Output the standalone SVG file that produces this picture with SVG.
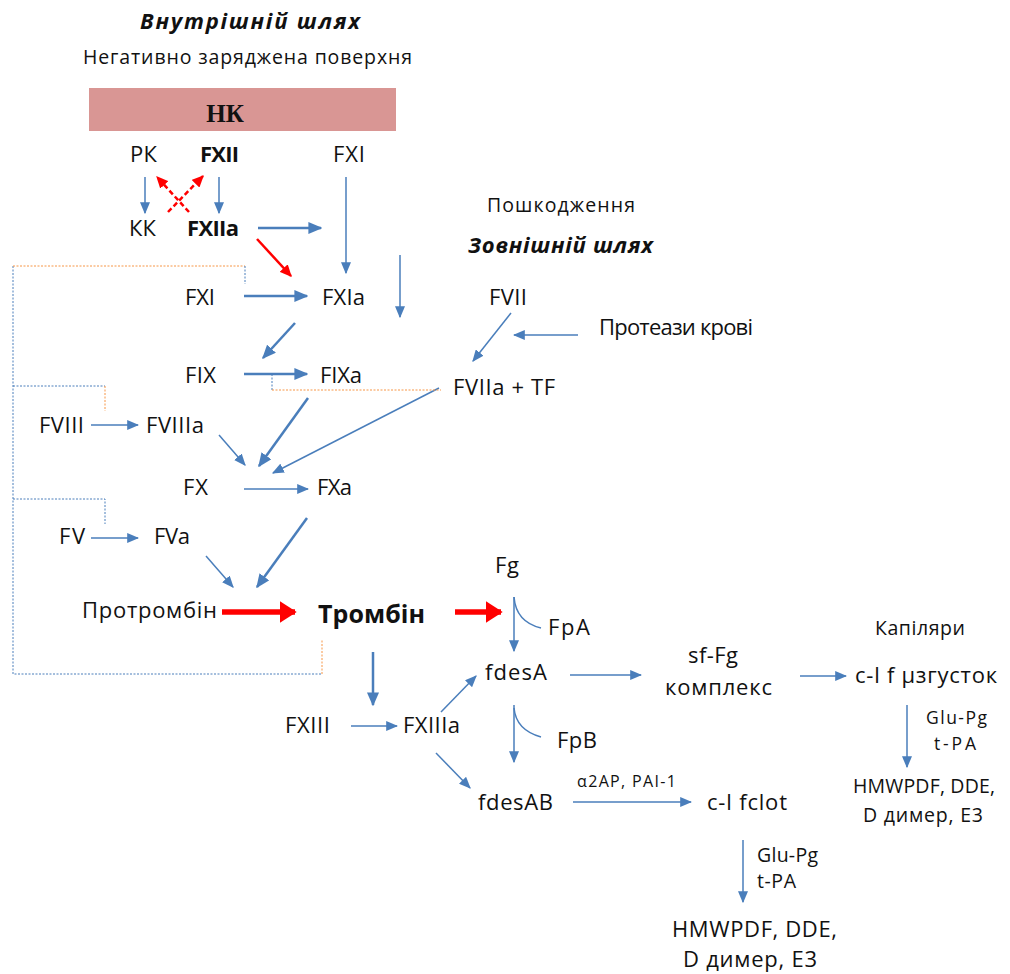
<svg xmlns="http://www.w3.org/2000/svg" width="1010" height="974" viewBox="0 0 1010 974">
<style>
text{font-family:"Open Sans","Liberation Sans",sans-serif;fill:#111;font-size:22px}
.b{font-weight:bold}
.bi{font-weight:bold;font-style:italic;font-size:22px}
.m{font-size:19.5px}
.sm{font-size:17.5px}
.xs{font-size:16px}
.a{stroke:#4a7ebb;stroke-width:1.5;fill:none}
.ak{stroke:#4a7ebb;stroke-width:2.5;fill:none}
.r{stroke:#ff0000;stroke-width:2.5;fill:none}
.rk{stroke:#ff0000;stroke-width:5.5;fill:none}
.rd{stroke:#ff0000;stroke-width:2.5;fill:none;stroke-dasharray:5 3}
.db{stroke:#4a7ebb;stroke-width:1;fill:none;stroke-dasharray:2 1.5}
.do{stroke:#f79646;stroke-width:1;fill:none;stroke-dasharray:2 1.5}
</style>
<defs>
<marker id="ma" viewBox="0 0 10 10" refX="9" refY="5" markerWidth="12" markerHeight="10" markerUnits="userSpaceOnUse" orient="auto" preserveAspectRatio="none"><path d="M0,0 L10,5 L0,10 z" fill="#4a7ebb"/></marker>
<marker id="mab" viewBox="0 0 10 10" refX="9" refY="5" markerWidth="14" markerHeight="12" markerUnits="userSpaceOnUse" orient="auto" preserveAspectRatio="none"><path d="M0,0 L10,5 L0,10 z" fill="#4a7ebb"/></marker>
<marker id="mr" viewBox="0 0 10 10" refX="9" refY="5" markerWidth="12" markerHeight="11" markerUnits="userSpaceOnUse" orient="auto" preserveAspectRatio="none"><path d="M0,0 L10,5 L0,10 z" fill="#ff0000"/></marker>
<marker id="mrk" viewBox="0 0 10 10" refX="9" refY="5" markerWidth="17" markerHeight="22" markerUnits="userSpaceOnUse" orient="auto" preserveAspectRatio="none"><path d="M0,0 L10,5 L0,10 z" fill="#ff0000"/></marker>
</defs>

<g id="headers">
<text class="bi" x="140" y="29" textLength="220" lengthAdjust="spacing">Внутрішній шлях</text>
<text class="m" x="83" y="64" textLength="329" lengthAdjust="spacing">Негативно заряджена поверхня</text>
<text class="m" x="487" y="212" textLength="148" lengthAdjust="spacing">Пошкодження</text>
<text class="bi" x="468" y="253" textLength="185" lengthAdjust="spacing">Зовнішній шлях</text>
<text class="m" x="875" y="635" textLength="90" lengthAdjust="spacing">Капіляри</text>
</g>

<g id="nk"><rect x="89" y="88" width="307" height="43" fill="#d99694"/><text x="225" y="122" text-anchor="middle" style="font-family:'Liberation Serif',serif;font-weight:bold;font-size:25px">НК</text></g>
<g id="pk"><text x="130" y="162" textLength="27" lengthAdjust="spacing">РК</text></g>
<g id="fxii"><text class="b" x="200" y="162" textLength="39" lengthAdjust="spacing">FXII</text></g>
<g id="fxi-top"><text x="333" y="162" textLength="32" lengthAdjust="spacing">FXI</text></g>
<g id="kk"><text x="129" y="236" textLength="27" lengthAdjust="spacing">КК</text></g>
<g id="fxiia"><text class="b" x="187" y="236" textLength="52" lengthAdjust="spacing">FXIIa</text></g>
<g id="fxi"><text x="185" y="305" textLength="30" lengthAdjust="spacing">FXI</text></g>
<g id="fxia"><text x="322" y="305" textLength="43" lengthAdjust="spacing">FXIa</text></g>
<g id="fvii"><text x="489" y="305" textLength="38" lengthAdjust="spacing">FVII</text></g>
<g id="proteases"><text x="599" y="335" textLength="154" lengthAdjust="spacing">Протеази крові</text></g>
<g id="fix"><text x="185" y="383" textLength="31" lengthAdjust="spacing">FIX</text></g>
<g id="fixa"><text x="320" y="383" textLength="42" lengthAdjust="spacing">FIXa</text></g>
<g id="fviia-tf"><text x="453" y="395" textLength="102" lengthAdjust="spacing">FVIIa + TF</text></g>
<g id="fviii"><text x="39" y="433" textLength="45" lengthAdjust="spacing">FVIII</text></g>
<g id="fviiia"><text x="146" y="433" textLength="58" lengthAdjust="spacing">FVIIIa</text></g>
<g id="fx"><text x="183" y="495" textLength="25" lengthAdjust="spacing">FX</text></g>
<g id="fxa"><text x="317" y="495" textLength="35" lengthAdjust="spacing">FXa</text></g>
<g id="fv"><text x="59" y="544" textLength="26" lengthAdjust="spacing">FV</text></g>
<g id="fva"><text x="154" y="544" textLength="36" lengthAdjust="spacing">FVa</text></g>
<g id="prothrombin"><text x="82" y="618" textLength="135" lengthAdjust="spacing">Протромбін</text></g>
<g id="thrombin"><text class="b" x="318" y="623" style="font-size:25px" textLength="107" lengthAdjust="spacing">Тромбін</text></g>
<g id="fg"><text x="495" y="573" textLength="24" lengthAdjust="spacing">Fg</text></g>
<g id="fpa"><text x="548" y="635" textLength="42" lengthAdjust="spacing">FpA</text></g>
<g id="fdesa"><text x="485" y="680" textLength="62" lengthAdjust="spacing">fdesA</text></g>
<g id="sffg"><text x="688" y="663" textLength="50" lengthAdjust="spacing">sf-Fg</text><text x="665" y="695" textLength="107" lengthAdjust="spacing">комплекс</text></g>
<g id="microclot"><text x="855" y="683" textLength="142" lengthAdjust="spacing">c-l f µзгусток</text></g>
<g id="fxiii"><text x="285" y="733" textLength="45" lengthAdjust="spacing">FXIII</text></g>
<g id="fxiiia"><text x="403" y="733" textLength="57" lengthAdjust="spacing">FXIIIa</text></g>
<g id="fpb"><text x="557" y="748" textLength="40" lengthAdjust="spacing">FpB</text></g>
<g id="fdesab"><text x="478" y="810" textLength="75" lengthAdjust="spacing">fdesAB</text></g>
<g id="inhib"><text class="xs" x="577" y="787" textLength="99" lengthAdjust="spacing">α2AP, PAI-1</text></g>
<g id="clot"><text x="707" y="810" textLength="80" lengthAdjust="spacing">c-l fclot</text></g>
<g id="lys1"><text class="sm" x="926" y="724" textLength="61" lengthAdjust="spacing">Glu-Pg</text><text class="sm" x="934" y="750" textLength="42" lengthAdjust="spacing">t-PA</text></g>
<g id="fdp1"><text class="m" x="853" y="793" textLength="142" lengthAdjust="spacing">HMWPDF, DDE,</text><text class="m" x="863" y="822" textLength="120" lengthAdjust="spacing">D димер, E3</text></g>
<g id="lys2"><text class="m" x="757" y="862" textLength="61" lengthAdjust="spacing">Glu-Pg</text><text class="m" x="757" y="888" textLength="39" lengthAdjust="spacing">t-PA</text></g>
<g id="fdp2"><text x="672" y="937" textLength="165" lengthAdjust="spacing">HMWPDF, DDE,</text><text x="683" y="967" textLength="134" lengthAdjust="spacing">D димер, E3</text></g>

<g id="connectors">
<line class="a" x1="145" y1="177" x2="145" y2="213" marker-end="url(#ma)"/>
<line class="a" x1="219" y1="177" x2="219" y2="213" marker-end="url(#ma)"/>
<line class="rd" x1="189" y1="212" x2="157" y2="177" marker-end="url(#mr)"/>
<line class="rd" x1="168" y1="212" x2="203" y2="176" marker-end="url(#mr)"/>
<line class="ak" x1="258" y1="228" x2="321" y2="228" marker-end="url(#mab)"/>
<line class="r" x1="257" y1="239" x2="291" y2="276" marker-end="url(#mr)"/>
<line class="a" x1="346" y1="177" x2="346" y2="273" marker-end="url(#ma)"/>
<line class="a" x1="400" y1="255" x2="400" y2="317" marker-end="url(#ma)"/>
<line class="ak" x1="244" y1="296" x2="307" y2="296" marker-end="url(#mab)"/>
<line class="ak" x1="295" y1="323" x2="263" y2="358" marker-end="url(#mab)"/>
<line class="ak" x1="244" y1="374" x2="307" y2="374" marker-end="url(#mab)"/>
<line class="a" x1="511" y1="313" x2="473" y2="361" marker-end="url(#ma)"/>
<line class="a" x1="578" y1="335" x2="514" y2="335" marker-end="url(#ma)"/>
<line class="a" x1="91" y1="425" x2="138" y2="425" marker-end="url(#ma)"/>
<line class="a" x1="219" y1="435" x2="245" y2="465" marker-end="url(#ma)"/>
<line class="ak" x1="308" y1="398" x2="259" y2="466" marker-end="url(#mab)"/>
<line class="a" x1="439" y1="388" x2="273" y2="473" marker-end="url(#ma)"/>
<line class="a" x1="244" y1="489" x2="308" y2="489" marker-end="url(#ma)"/>
<line class="a" x1="91" y1="538" x2="138" y2="538" marker-end="url(#ma)"/>
<line class="a" x1="206" y1="556" x2="233" y2="587" marker-end="url(#ma)"/>
<line class="ak" x1="307" y1="518" x2="257" y2="587" marker-end="url(#mab)"/>
<line class="rk" x1="222" y1="612" x2="295" y2="612" marker-end="url(#mrk)"/>
<line class="rk" x1="455" y1="612" x2="501" y2="612" marker-end="url(#mrk)"/>
<line class="a" x1="514" y1="597" x2="514" y2="651" marker-end="url(#ma)"/>
<path class="a" d="M514,597 Q516,622 541,628"/>
<line class="a" x1="570" y1="675" x2="641" y2="675" marker-end="url(#ma)"/>
<line class="a" x1="800" y1="676" x2="846" y2="676" marker-end="url(#ma)"/>
<line class="a" x1="907" y1="705" x2="907" y2="767" marker-end="url(#ma)"/>
<line class="ak" x1="373" y1="652" x2="373" y2="705" marker-end="url(#mab)"/>
<line class="a" x1="351" y1="726" x2="397" y2="726" marker-end="url(#ma)"/>
<line class="a" x1="441" y1="712" x2="476" y2="676" marker-end="url(#ma)"/>
<line class="a" x1="436" y1="753" x2="470" y2="788" marker-end="url(#ma)"/>
<line class="a" x1="514" y1="705" x2="514" y2="762" marker-end="url(#ma)"/>
<path class="a" d="M514,708 Q516,730 541,737"/>
<line class="a" x1="573" y1="802" x2="691" y2="802" marker-end="url(#ma)"/>
<line class="a" x1="743" y1="840" x2="743" y2="902" marker-end="url(#ma)"/>
<path class="db" d="M13,266 V674 H322"/>
<path class="do" d="M322,674 V640"/>
<path class="do" d="M13,266 H245"/>
<path class="db" d="M245,266 V284"/>
<path class="db" d="M13,386 H105"/>
<path class="do" d="M105,386 V411"/>
<path class="db" d="M13,499 H105 V524"/>
<path class="db" d="M272,374 V390"/>
<path class="do" d="M272,390 H441"/>
</g>
</svg>
